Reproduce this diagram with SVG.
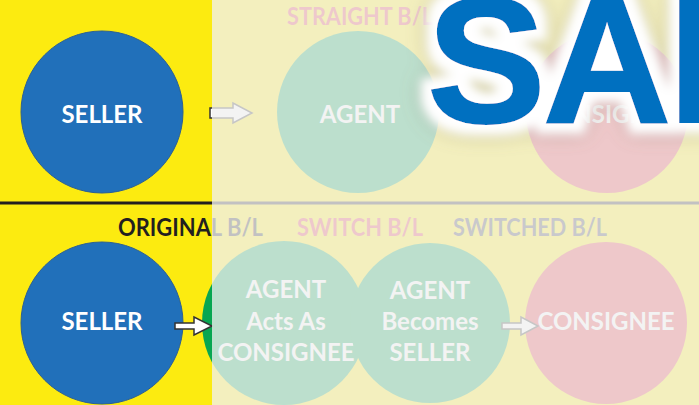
<svg xmlns="http://www.w3.org/2000/svg" width="699" height="405" viewBox="0 0 699 405">
<style>
.lbl{font-family:Lato,"Open Sans","Liberation Sans",sans-serif;font-weight:bold;font-size:24px;fill:#ffffff;text-anchor:middle}
.hdr{font-family:Lato,"Open Sans","Liberation Sans",sans-serif;font-weight:bold;font-size:24px}
.blue{fill:#2170BA;stroke:#2b5f94;stroke-width:1}
.green{fill:#07A651}
.red{fill:#E63C46}
.arr{fill:#ffffff;stroke:#333333;stroke-width:1.5;stroke-linejoin:miter}
</style>
<defs>
<filter id="glow" x="-20%" y="-40%" width="140%" height="180%">
<feMorphology in="SourceAlpha" operator="dilate" radius="10" result="d"/>
<feGaussianBlur in="d" stdDeviation="5" result="b"/>
<feFlood flood-color="#ffffff"/>
<feComposite in2="b" operator="in" result="w"/>
<feGaussianBlur in="d" stdDeviation="10" result="s"/>
<feFlood flood-color="#8a7f66" flood-opacity="0.45"/>
<feComposite in2="s" operator="in" result="sh"/>
<feMerge><feMergeNode in="sh"/><feMergeNode in="w"/><feMergeNode in="SourceGraphic"/></feMerge>
</filter>
</defs>
<rect x="0" y="0" width="699" height="405" fill="#FCEB10"/>
<g id="header-straight"><text class="hdr" x="287" y="25" fill="#E63C50" textLength="146" lengthAdjust="spacingAndGlyphs">STRAIGHT B/L</text></g>
<g id="seller-top"><circle class="blue" cx="102" cy="112" r="81"/><text class="lbl" x="102" y="123">SELLER</text></g>
<g id="agent-top"><circle class="green" cx="358" cy="112" r="81"/><text class="lbl" x="360" y="123">AGENT</text></g>
<g id="consignee-top"><circle class="red" cx="607" cy="112" r="81"/><text class="lbl" x="607" y="123">CONSIGNEE</text></g>
<line x1="0" y1="203" x2="699" y2="203" stroke="#231F20" stroke-width="3"/>
<g id="header-original"><text class="hdr" x="118" y="236" fill="#231F20" textLength="145" lengthAdjust="spacingAndGlyphs">ORIGINAL B/L</text></g>
<g id="header-switch"><text class="hdr" x="297" y="236" fill="#E63C50" textLength="126" lengthAdjust="spacingAndGlyphs">SWITCH B/L</text></g>
<g id="header-switched"><text class="hdr" x="453" y="236" fill="#404050" textLength="154" lengthAdjust="spacingAndGlyphs">SWITCHED B/L</text></g>
<g id="seller-bottom"><circle class="blue" cx="102" cy="323" r="81"/><text class="lbl" x="102" y="330">SELLER</text></g>
<g id="agent-acts"><circle class="green" cx="284" cy="323" r="82"/><text class="lbl" x="286" y="298">AGENT</text><text class="lbl" x="286" y="330">Acts As</text><text class="lbl" x="286" y="361">CONSIGNEE</text></g>
<g id="agent-becomes"><circle class="green" cx="430" cy="323" r="80"/><text class="lbl" x="430" y="299">AGENT</text><text class="lbl" x="430" y="330">Becomes</text><text class="lbl" x="430" y="361">SELLER</text></g>
<g id="consignee-bottom"><circle class="red" cx="606" cy="323" r="81"/><text class="lbl" x="606" y="330">CONSIGNEE</text></g>
<g id="connectors">
<path class="arr" d="M210,108 H233 V103 L252,113 L233,123 V118 H210 Z"/>
<path class="arr" d="M175,323 H194 V317 L212,326 L194,335 V329 H175 Z"/>
<path class="arr" d="M502,323 H521 V317 L538,326 L521,335 V329 H502 Z"/>
</g>
<rect x="212" y="0" width="487" height="405" fill="#F0F0F0" fill-opacity="0.78"/>
<g id="logo"><text x="427" y="122" font-family="'Liberation Sans',Arial,sans-serif" font-weight="bold" font-size="178" letter-spacing="-3" fill="#0070C0" stroke="#0070C0" stroke-width="2" filter="url(#glow)">SAI</text></g>
</svg>
